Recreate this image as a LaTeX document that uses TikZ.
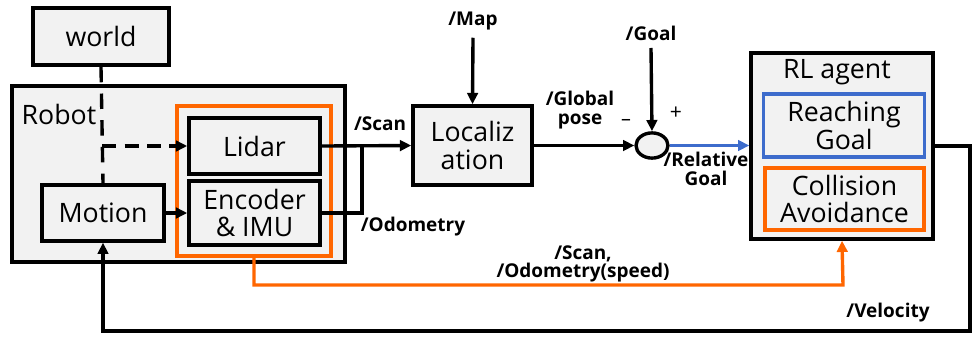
\documentclass[tikz,border=0pt]{standalone}
\usepackage{fontspec}
\setmainfont{Open Sans}
\definecolor{boxgray}{RGB}{242,242,242}
\definecolor{sensororange}{RGB}{255,102,0}
\definecolor{goalblue}{RGB}{61,108,204}
\usetikzlibrary{
    arrows.meta,
    shapes.geometric,
    positioning,
    calc
}
\tikzstyle{box} = [
    rectangle,
    draw=black,
    line width=2.4pt,
    fill=boxgray,
    align=center,
    inner sep=0pt,
    font=\fontsize{19}{19.5}\selectfont
]
\tikzstyle{frame} = [
    rectangle,
    line width=2.4pt,
    inner sep=0pt
]
\tikzstyle{tag} = [
    align=center,
    inner sep=1pt,
    font=\fontsize{13.5}{13}\selectfont\bfseries
]
\tikzstyle{arrow} = [
    ->,
    >={Triangle[length=8pt,width=7.5pt]},
    line width=2.4pt,
    draw=black
]

\begin{document}
\begin{tikzpicture}[x=0.025cm, y=-0.025cm]
    \useasboundingbox (0,0) rectangle (973,337);

    % Robot side
    \node[box, minimum width=3.40cm, minimum height=1.43cm] (world) at (101,36.5) {world};
    \node[box, minimum width=8.33cm, minimum height=4.40cm] (robot) at (178.5,174) {};
    \node[font=\fontsize{19}{20}\selectfont, inner sep=0pt] (robotlabel) at (59,114) {Robot};
    \node[frame, draw=sensororange, minimum width=3.85cm, minimum height=3.75cm] (sensors) at (254,181) {};
    \node[box, minimum width=3.28cm, minimum height=1.40cm] (lidar) at (254.5,146) {Lidar};
    \node[box, minimum width=3.28cm, minimum height=1.60cm] (encoder) at (254.5,213) {Encoder\\\& IMU};
    \node[box, minimum width=3.05cm, minimum height=1.40cm] (motion) at (103,213) {Motion};

    % Localization and goal
    \node[box, minimum width=2.98cm, minimum height=1.98cm] (loc) at (472.5,145.5) {Localiz\\ation};
    \node[ellipse, draw, line width=2.4pt, fill=boxgray, minimum width=0.80cm, minimum height=0.63cm, inner sep=0pt] (sum) at (652,145.5) {};
    \node[tag] (map) at (473,21) {/Map};
    \node[tag] (goal) at (651,33) {/Goal};

    % RL agent
    \node[box, minimum width=4.55cm, minimum height=4.65cm] (agent) at (842,146) {};
    \node[font=\fontsize{19}{20}\selectfont, inner sep=0pt] (agentlabel) at (837,72) {RL agent};
    \node[box, draw=goalblue, minimum width=4.03cm, minimum height=1.58cm] (reach) at (844,125.5) {Reaching\\Goal};
    \node[box, draw=sensororange, minimum width=3.98cm, minimum height=1.55cm] (collide) at (844.5,199) {Collision\\Avoidance};

    % Corners
    \coordinate (tap) at (102,146);
    \coordinate (join) at (362,145);
    \coordinate (ocorner) at (843,285);
    \coordinate (vcorner) at (970,331);

    % Arrows
    \draw[line width=2.4pt, dash pattern=on 11pt off 8pt] (world.south) -- (motion.north);
    \draw[arrow, dash pattern=on 10pt off 6pt] (tap) -- (lidar.west);
    \draw[arrow] (motion.east) -- (encoder.west);
    \draw[line width=2.4pt] (encoder.east) -| (join);
    \draw[arrow] (lidar.east) -- (loc.west);
    \draw[arrow] (map.south) ++(0,6) -- (loc.north);
    \draw[arrow] (loc.east) -- (sum.west);
    \draw[arrow] (goal.south) ++(0,6) -- (sum.north);
    \draw[arrow, draw=goalblue] (sum.east) -- (sum.east -| agent.west);
    \draw[arrow, draw=sensororange] (sensors.south) |- (ocorner) -- (agent.south);
    \draw[arrow] (agent.east) -| (vcorner) -| (motion.south);

    % Labels
    \node[tag] (scanlabel) at (380,124) {/Scan};
    \node[tag] (odomlabel) at (413,227) {/Odometry};
    \node[tag] (poselabel) at (580,110) {/Global\\pose};
    \node[font=\fontsize{14}{15}\selectfont, inner sep=0pt] (minus) at (626,122) {–};
    \node[font=\fontsize{15}{16}\selectfont, inner sep=0pt] (plus) at (676,113) {+};
    \node[tag] (rellabel) at (706,169) {/Relative\\Goal};
    \node[tag] (obslabel) at (583,264) {/Scan,\\/Odometry(speed)};
    \node[tag] (vellabel) at (888,313) {/Velocity};
\end{tikzpicture}
\end{document}
